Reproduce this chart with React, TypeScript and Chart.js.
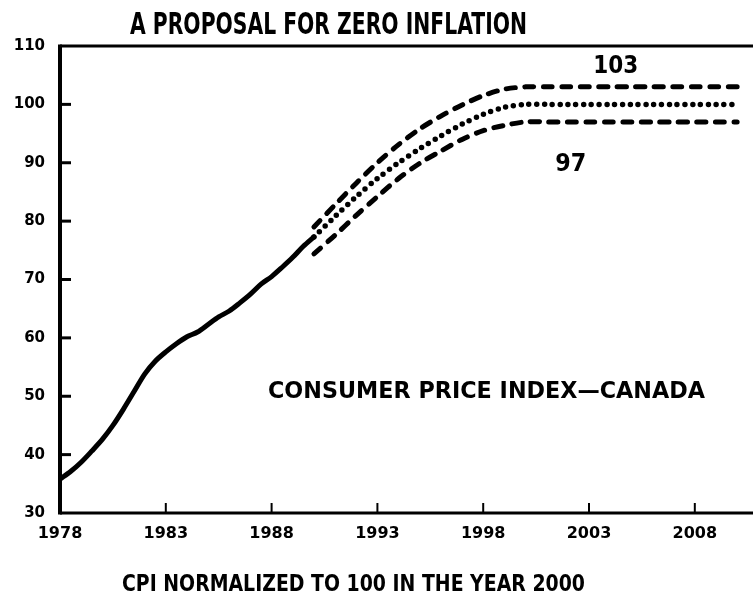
import { useEffect, useRef } from 'react';
import { Chart, registerables } from 'chart.js';

Chart.register(...registerables);

// ---- data ----
const cpiYears = [1978, 1978.5, 1979, 1979.5, 1980, 1980.5, 1981, 1981.5, 1982, 1982.5, 1983, 1983.5, 1984, 1984.5, 1985, 1985.5, 1986, 1986.5, 1987, 1987.5, 1988, 1988.5, 1989, 1989.5, 1990];
const cpiValues = [35.8, 37.1, 38.7, 40.6, 42.6, 45.0, 47.8, 50.8, 53.8, 56.0, 57.6, 59.0, 60.2, 61.0, 62.3, 63.6, 64.6, 66.0, 67.5, 69.2, 70.5, 72.1, 73.8, 75.7, 77.3];

const projYears = [1990, 1991, 1992, 1993, 1994, 1995, 1996, 1997, 1998, 1999, 2000, 2001, 2002, 2003, 2004, 2005, 2006, 2007, 2008, 2009, 2010];
const upperBand = [79.0, 82.8, 86.5, 90.0, 93.1, 95.8, 98.0, 99.9, 101.5, 102.6, 103, 103, 103, 103, 103, 103, 103, 103, 103, 103, 103];
const targetPath = [77.3, 80.8, 84.2, 87.3, 90.0, 92.4, 94.6, 96.6, 98.3, 99.5, 100, 100, 100, 100, 100, 100, 100, 100, 100, 100, 100];
const lowerBand = [74.4, 77.6, 81.0, 84.2, 87.3, 89.9, 92.0, 94.0, 95.5, 96.4, 97, 97, 97, 97, 97, 97, 97, 97, 97, 97, 97];

const xTicks = [1978, 1983, 1988, 1993, 1998, 2003, 2008];
const yTicks = [30, 40, 50, 60, 70, 80, 90, 100, 110];

const titleText = 'A PROPOSAL FOR ZERO INFLATION';
const seriesLabel = 'CONSUMER PRICE INDEX\u2014CANADA';
const footText = 'CPI NORMALIZED TO 100 IN THE YEAR 2000';
const upperLabel = '103';
const lowerLabel = '97';

const FONT = '"DejaVu Sans", "Liberation Sans", sans-serif';

function toPoints(xs: number[], ys: number[]) {
  return xs.map((x, i) => ({ x, y: ys[i] }));
}

function drawFit(ctx: CanvasRenderingContext2D, text: string, left: number, cy: number, width: number, px: number, weight: string) {
  ctx.save();
  ctx.font = `${weight} ${px}px ${FONT}`;
  const w = ctx.measureText(text).width;
  ctx.translate(left, cy + px * 0.365);
  ctx.scale(width / w, 1);
  ctx.textAlign = 'left';
  ctx.textBaseline = 'alphabetic';
  ctx.fillStyle = '#000';
  ctx.fillText(text, 0, 0);
  ctx.restore();
}

const decor = {
  id: 'decor',
  afterDraw(chart: any) {
    const { ctx, chartArea: a, scales } = chart;
    const xs = scales.x;
    const ys = scales.y;
    const line = (x1: number, y1: number, x2: number, y2: number) => {
      ctx.beginPath();
      ctx.moveTo(x1, y1);
      ctx.lineTo(x2, y2);
      ctx.stroke();
    };
    ctx.save();
    ctx.strokeStyle = '#000';
    ctx.lineCap = 'butt';
    ctx.lineWidth = 4;
    line(a.left, a.top - 1.5, a.left, a.bottom + 1.5);
    ctx.lineWidth = 3;
    line(a.left, a.bottom, a.right, a.bottom);
    line(a.left, a.top, a.right, a.top);
    ctx.lineWidth = 3;
    for (const v of yTicks) {
      if (v > 30 && v < 110) {
        const py = ys.getPixelForValue(v);
        line(a.left, py, a.left + 11, py);
      }
    }
    ctx.lineWidth = 2;
    for (const v of xTicks) {
      if (v > 1978) {
        const px = xs.getPixelForValue(v);
        line(px, a.bottom, px, a.bottom - 10);
      }
    }
    ctx.restore();

    drawFit(ctx, titleText, 130, 23, 397, 30, 'bold');
    drawFit(ctx, upperLabel, xs.getPixelForValue(2003.2), ys.getPixelForValue(106.9), 45, 25, 'bold');
    drawFit(ctx, lowerLabel, xs.getPixelForValue(2001.4), ys.getPixelForValue(90.1), 31, 25, 'bold');
    drawFit(ctx, seriesLabel, xs.getPixelForValue(1987.83), ys.getPixelForValue(51.2), 437, 23, 'bold');
    drawFit(ctx, footText, 122, 583, 463, 23, 'bold');
  },
};

export default function App() {
  const ref = useRef<HTMLCanvasElement>(null);
  useEffect(() => {
    if (!ref.current) return;
    const common = {
      borderColor: '#000',
      borderWidth: 5,
      pointRadius: 0,
      fill: false,
      tension: 0.3,
      borderCapStyle: 'round' as const,
      borderJoinStyle: 'round' as const,
    };
    const chart = new Chart(ref.current, {
      type: 'line',
      data: {
        datasets: [
          { ...common, label: 'CPI', data: toPoints(cpiYears, cpiValues) },
          { ...common, label: '103', data: toPoints(projYears, upperBand), borderDash: [9, 9.5] },
          { ...common, label: '100', data: toPoints(projYears, targetPath), borderDash: [0, 7.8], borderWidth: 5.5 },
          { ...common, label: '97', data: toPoints(projYears, lowerBand), borderDash: [9, 9.5] },
        ],
      },
      options: {
        responsive: false,
        animation: false,
        devicePixelRatio: 1,
        layout: { padding: { top: 46, right: 0, bottom: 0, left: 0 } },
        plugins: {
          legend: { display: false },
          tooltip: { enabled: false },
          title: { display: false },
        },
        scales: {
          x: {
            type: 'linear',
            min: 1978,
            max: 2010.75,
            afterBuildTicks: (s: any) => {
              s.ticks = xTicks.map((v) => ({ value: v }));
            },
            afterFit: (s: any) => {
              s.height = 87;
            },
            grid: { display: false, drawTicks: false },
            border: { display: false },
            ticks: {
              padding: 11,
              color: '#000',
              font: { family: FONT, size: 16, weight: 'bold' },
              callback: (v: any) => String(v),
              maxRotation: 0,
              autoSkip: false,
            },
          },
          y: {
            type: 'linear',
            min: 30,
            max: 110,
            afterBuildTicks: (s: any) => {
              s.ticks = yTicks.map((v) => ({ value: v }));
            },
            afterFit: (s: any) => {
              s.width = 60;
            },
            grid: { display: false, drawTicks: false },
            border: { display: false },
            ticks: {
              padding: 15,
              color: '#000',
              font: { family: FONT, size: 15, weight: 'bold' },
              callback: (v: any) => String(v),
            },
          },
        },
      },
      plugins: [decor],
    });
    return () => chart.destroy();
  }, []);
  return (
    <div style={{ position: 'fixed', left: 0, top: 0, width: 753, height: 600, background: '#fff' }}>
      <canvas ref={ref} width={753} height={600} style={{ display: 'block' }} />
    </div>
  );
}
